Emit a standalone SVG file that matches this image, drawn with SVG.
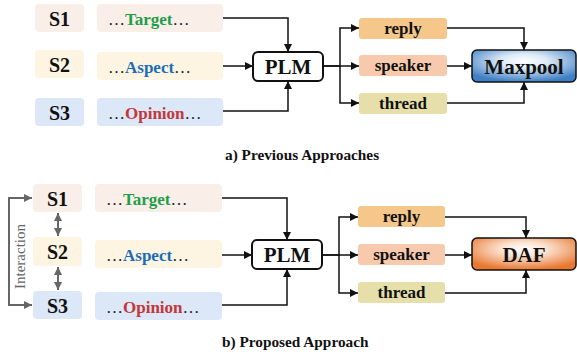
<svg xmlns="http://www.w3.org/2000/svg" width="577" height="354" viewBox="0 0 577 354" font-family="'Liberation Serif', serif">
<defs>
<style>
text{font-family:'Liberation Serif',serif;}
.s{font-size:20px;font-weight:bold;text-anchor:middle;fill:#111;}
.t{font-size:17px;fill:#222;}
.f{font-size:17px;font-weight:bold;text-anchor:middle;fill:#111;}
.big{font-size:21px;font-weight:bold;text-anchor:middle;fill:#111;}
.cap{font-size:15.3px;font-weight:bold;fill:#111;}
.c1{fill:#f9efe8;}
.c2{fill:#fdf5e2;}
.c3{fill:#dce7f7;}
.ln{fill:none;stroke:#111;stroke-width:1.5;marker-end:url(#ah);}
.gl{fill:none;stroke:#666;stroke-width:2;marker-end:url(#ag);marker-start:url(#ag);}
.g{fill:#1f9e4a;font-weight:bold;}
.bl{fill:#1a6db6;font-weight:bold;}
.r{fill:#c3373b;font-weight:bold;}
.plm{fill:#fff;stroke:#111;stroke-width:2;}
</style>
<marker id="ah" markerWidth="9" markerHeight="8" refX="8" refY="4" orient="auto" markerUnits="userSpaceOnUse"><path d="M0,0 L8,4 L0,8 z" fill="#111"/></marker>
<marker id="ag" markerWidth="9" markerHeight="8" refX="8" refY="4" orient="auto-start-reverse" markerUnits="userSpaceOnUse"><path d="M0,0 L8,4 L0,8 z" fill="#666"/></marker>
<radialGradient id="gb" cx="50%" cy="35%" r="65%">
<stop offset="0" stop-color="#ffffff"/><stop offset="0.35" stop-color="#dde9f6"/><stop offset="1" stop-color="#3f7fc4"/>
</radialGradient>
<radialGradient id="go" cx="50%" cy="35%" r="65%">
<stop offset="0" stop-color="#ffffff"/><stop offset="0.35" stop-color="#fbe1cf"/><stop offset="1" stop-color="#e8772f"/>
</radialGradient>
</defs>

<g id="connectors">
<path class="ln" d="M223,18 H288 V52"/>
<path class="ln" d="M223,66 H253"/>
<path class="ln" d="M223,111 H288 V81"/>
<path class="ln" d="M323,66 H340 V28 H359"/>
<path class="ln" d="M323,66 H359"/>
<path class="ln" d="M340,66 V103 H359"/>
<path class="ln" d="M447,28 H524 V50"/>
<path class="ln" d="M447,66 H472"/>
<path class="ln" d="M447,103 H524 V82"/>

<path class="ln" d="M222,198 H287 V240"/>
<path class="ln" d="M222,255 H252"/>
<path class="ln" d="M222,305 H287 V269"/>
<path class="ln" d="M322,255 H339 V217 H358"/>
<path class="ln" d="M322,255 H358"/>
<path class="ln" d="M339,255 V293 H358"/>
<path class="ln" d="M445,217 H526 V238"/>
<path class="ln" d="M445,255 H472"/>
<path class="ln" d="M445,293 H526 V270"/>

<path class="gl" d="M32,198 H9 V305 H32"/>
<path class="gl" d="M58,213 V236"/>
<path class="gl" d="M58,267 V290"/>
</g>

<g id="a_S1"><rect class="c1" x="35" y="4" width="49" height="28" rx="4"/><text class="s" x="59.5" y="25.5">S1</text></g>
<g id="a_S2"><rect class="c2" x="35" y="50" width="49" height="28" rx="4"/><text class="s" x="59.5" y="71.5">S2</text></g>
<g id="a_S3"><rect class="c3" x="35" y="98" width="49" height="28" rx="4"/><text class="s" x="59.5" y="119.5">S3</text></g>
<g id="a_target"><rect class="c1" x="97" y="4" width="126" height="28" rx="4"/><text class="t" x="108" y="25">…<tspan class="g">Target</tspan>…</text></g>
<g id="a_aspect"><rect class="c2" x="97" y="52" width="126" height="28" rx="4"/><text class="t" x="108" y="73">…<tspan class="bl">Aspect</tspan>…</text></g>
<g id="a_opinion"><rect class="c3" x="97" y="98" width="126" height="28" rx="4"/><text class="t" x="108" y="119">…<tspan class="r">Opinion</tspan>…</text></g>
<g id="a_plm"><rect class="plm" x="253" y="52" width="70" height="29" rx="5"/><text class="big" x="288" y="74">PLM</text></g>
<g id="a_reply"><rect x="359" y="18" width="88" height="21" rx="3" fill="#f5c78a"/><text class="f" x="403" y="34">reply</text></g>
<g id="a_speaker"><rect x="359" y="55" width="88" height="21" rx="3" fill="#f7caae"/><text class="f" x="403" y="71">speaker</text></g>
<g id="a_thread"><rect x="359" y="93" width="88" height="21" rx="3" fill="#e6dfa9"/><text class="f" x="403" y="109">thread</text></g>
<g id="a_maxpool"><rect x="472" y="50" width="104" height="32" rx="5" fill="url(#gb)" stroke="#111" stroke-width="1.5"/><text class="big" x="524" y="73.5">Maxpool</text></g>
<g id="cap_a"><text class="cap" x="225" y="160">a) Previous Approaches</text></g>

<g id="b_S1"><rect class="c1" x="33" y="184" width="49" height="28" rx="4"/><text class="s" x="57.5" y="205.5">S1</text></g>
<g id="b_S2"><rect class="c2" x="33" y="237" width="49" height="29" rx="4"/><text class="s" x="57.5" y="259">S2</text></g>
<g id="b_S3"><rect class="c3" x="33" y="291" width="49" height="28" rx="4"/><text class="s" x="57.5" y="312.5">S3</text></g>
<g id="b_target"><rect class="c1" x="95" y="184" width="127" height="28" rx="4"/><text class="t" x="106" y="205">…<tspan class="g">Target</tspan>…</text></g>
<g id="b_aspect"><rect class="c2" x="95" y="240" width="127" height="28" rx="4"/><text class="t" x="106" y="261">…<tspan class="bl">Aspect</tspan>…</text></g>
<g id="b_opinion"><rect class="c3" x="95" y="292" width="127" height="28" rx="4"/><text class="t" x="106" y="313">…<tspan class="r">Opinion</tspan>…</text></g>
<g id="b_interaction"><text transform="translate(25,256.5) rotate(-90)" text-anchor="middle" font-size="15" fill="#666">Interaction</text></g>
<g id="b_plm"><rect class="plm" x="252" y="240" width="70" height="29" rx="5"/><text class="big" x="287" y="262">PLM</text></g>
<g id="b_reply"><rect x="358" y="206" width="87" height="21" rx="3" fill="#f5c78a"/><text class="f" x="401.5" y="222">reply</text></g>
<g id="b_speaker"><rect x="358" y="244" width="87" height="21" rx="3" fill="#f7caae"/><text class="f" x="401.5" y="260">speaker</text></g>
<g id="b_thread"><rect x="358" y="282" width="87" height="21" rx="3" fill="#e6dfa9"/><text class="f" x="401.5" y="298">thread</text></g>
<g id="b_daf"><rect x="472" y="238" width="104" height="32" rx="5" fill="url(#go)" stroke="#111" stroke-width="1.5"/><text class="big" x="524" y="261.5">DAF</text></g>
<g id="cap_b"><text class="cap" x="222" y="347">b) Proposed Approach</text></g>
</svg>
